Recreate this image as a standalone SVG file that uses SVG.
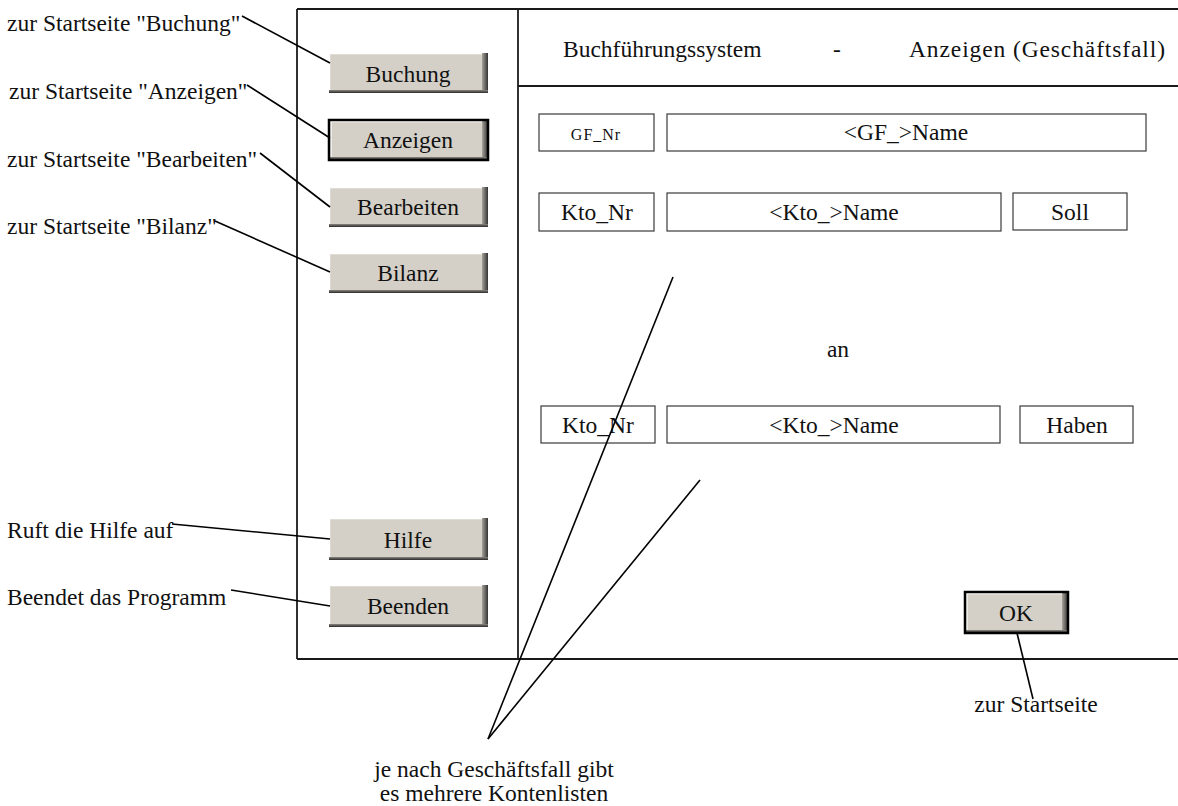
<svg xmlns="http://www.w3.org/2000/svg" width="1178" height="806" viewBox="0 0 1178 806" font-family="'Liberation Serif','Times New Roman',serif">
<defs>
<linearGradient id="shR" x1="0" y1="0" x2="1" y2="0">
<stop offset="0" stop-color="#a8a49c"/>
<stop offset="1" stop-color="#333333"/>
</linearGradient>
<linearGradient id="shB" x1="0" y1="0" x2="0" y2="1">
<stop offset="0" stop-color="#8a8680"/>
<stop offset="1" stop-color="#2a2a2a"/>
</linearGradient>
</defs>
<style>
text{font-family:"Liberation Serif","Times New Roman",serif;fill:#111;}
.t{font-size:23.5px;}
.c{text-anchor:middle;}
.small{font-size:16px;letter-spacing:1px;}
.frame{stroke:#1a1a1a;stroke-width:1.8;fill:none;}
.field{fill:#fff;stroke:#3a3a3a;stroke-width:1.2;}
.face{fill:#d4d0c8;}
.hl{stroke:#fff;stroke-width:1.2;}
.sel{fill:none;stroke:#000;stroke-width:2.5;}
.conn line{stroke:#000;stroke-width:1.6;}
</style>
<rect width="1178" height="806" fill="#fff"/>

<g id="frame">
<line class="frame" x1="297" y1="9" x2="1178" y2="9"/>
<line class="frame" x1="297" y1="9" x2="297" y2="659"/>
<line class="frame" x1="297" y1="659" x2="1178" y2="659"/>
<line class="frame" x1="518" y1="9" x2="518" y2="659"/>
<line class="frame" x1="518" y1="86" x2="1178" y2="86"/>
</g>

<g id="header">
<text class="t" x="563" y="57">Buchführungssystem</text>
<text class="t c" x="837" y="57">-</text>
<text class="t c" x="1037" y="57" textLength="256" lengthAdjust="spacing">Anzeigen (Geschäftsfall)</text>
</g>

<g id="btn-buchung">
<rect class="face" x="329" y="53" width="159" height="40"/>
<rect x="482" y="53" width="6" height="40" fill="url(#shR)"/>
<rect x="329" y="90" width="159" height="3" fill="url(#shB)"/>
<line class="hl" x1="329" y1="53.6" x2="482" y2="53.6"/>
<line class="hl" x1="329.6" y1="53" x2="329.6" y2="90"/>
<text class="t c" x="408" y="82">Buchung</text>
</g>
<g id="btn-anzeigen">
<rect class="face" x="329" y="120" width="159" height="40"/>
<rect x="482" y="120" width="6" height="40" fill="url(#shR)"/>
<rect x="329" y="157" width="159" height="3" fill="url(#shB)"/>
<line class="hl" x1="330" y1="121.6" x2="482" y2="121.6"/>
<line class="hl" x1="331" y1="121" x2="331" y2="157"/>
<rect class="sel" x="329" y="120" width="159" height="40"/>
<text class="t c" x="408" y="148">Anzeigen</text>
</g>
<g id="btn-bearbeiten">
<rect class="face" x="329" y="187" width="159" height="40"/>
<rect x="482" y="187" width="6" height="40" fill="url(#shR)"/>
<rect x="329" y="224" width="159" height="3" fill="url(#shB)"/>
<line class="hl" x1="329" y1="187.6" x2="482" y2="187.6"/>
<line class="hl" x1="329.6" y1="187" x2="329.6" y2="224"/>
<text class="t c" x="408" y="215">Bearbeiten</text>
</g>
<g id="btn-bilanz">
<rect class="face" x="329" y="253" width="159" height="40"/>
<rect x="482" y="253" width="6" height="40" fill="url(#shR)"/>
<rect x="329" y="290" width="159" height="3" fill="url(#shB)"/>
<line class="hl" x1="329" y1="253.6" x2="482" y2="253.6"/>
<line class="hl" x1="329.6" y1="253" x2="329.6" y2="290"/>
<text class="t c" x="408" y="281">Bilanz</text>
</g>
<g id="btn-hilfe">
<rect class="face" x="329" y="518" width="159" height="42"/>
<rect x="482" y="518" width="6" height="42" fill="url(#shR)"/>
<rect x="329" y="557" width="159" height="3" fill="url(#shB)"/>
<line class="hl" x1="329" y1="518.6" x2="482" y2="518.6"/>
<line class="hl" x1="329.6" y1="518" x2="329.6" y2="557"/>
<text class="t c" x="408" y="548">Hilfe</text>
</g>
<g id="btn-beenden">
<rect class="face" x="329" y="585" width="159" height="42"/>
<rect x="482" y="585" width="6" height="42" fill="url(#shR)"/>
<rect x="329" y="624" width="159" height="3" fill="url(#shB)"/>
<line class="hl" x1="329" y1="585.6" x2="482" y2="585.6"/>
<line class="hl" x1="329.6" y1="585" x2="329.6" y2="624"/>
<text class="t c" x="408" y="614">Beenden</text>
</g>
<g id="btn-ok">
<rect class="face" x="965" y="592" width="103" height="41"/>
<rect x="1062" y="592" width="6" height="41" fill="url(#shR)"/>
<rect x="965" y="630" width="103" height="3" fill="url(#shB)"/>
<line class="hl" x1="966" y1="593.6" x2="1062" y2="593.6"/>
<line class="hl" x1="967" y1="593" x2="967" y2="630"/>
<rect class="sel" x="965" y="592" width="103" height="41"/>
<text class="t c" x="1016" y="621">OK</text>
</g>

<g id="gf-nr"><rect class="field" x="539" y="114" width="115" height="37"/><text class="small c" x="596" y="140">GF_Nr</text></g>
<g id="gf-name"><rect class="field" x="667" y="114" width="479" height="37"/><text class="t c" x="906" y="140">&lt;GF_&gt;Name</text></g>
<g id="kto1-nr"><rect class="field" x="539" y="193" width="115" height="38"/><text class="t c" x="597" y="220">Kto_Nr</text></g>
<g id="kto1-name"><rect class="field" x="667" y="193" width="334" height="38"/><text class="t c" x="834" y="220">&lt;Kto_&gt;Name</text></g>
<g id="soll"><rect class="field" x="1013" y="193" width="114" height="37"/><text class="t c" x="1070" y="220">Soll</text></g>
<g id="an"><text class="t c" x="838" y="357">an</text></g>
<g id="kto2-nr"><rect class="field" x="541" y="406" width="114" height="37"/><text class="t c" x="598" y="433">Kto_Nr</text></g>
<g id="kto2-name"><rect class="field" x="667" y="406" width="333" height="37"/><text class="t c" x="834" y="433">&lt;Kto_&gt;Name</text></g>
<g id="haben"><rect class="field" x="1020" y="406" width="113" height="37"/><text class="t c" x="1077" y="433">Haben</text></g>

<g id="labels">
<text class="t" x="7" y="31">zur Startseite "Buchung"</text>
<text class="t" x="9" y="99">zur Startseite "Anzeigen"</text>
<text class="t" x="7" y="167">zur Startseite "Bearbeiten"</text>
<text class="t" x="7" y="234">zur Startseite "Bilanz"</text>
<text class="t" x="7" y="538">Ruft die Hilfe auf</text>
<text class="t" x="7" y="605">Beendet das Programm</text>
<text class="t c" x="1036" y="712">zur Startseite</text>
<text class="t c" x="494" y="777">je nach Geschäftsfall gibt</text>
<text class="t c" x="494" y="801">es mehrere Kontenlisten</text>
</g>

<g id="connectors" class="conn">
<line x1="242" y1="16" x2="330" y2="63"/>
<line x1="247" y1="85" x2="330" y2="138"/>
<line x1="260" y1="153" x2="330" y2="207"/>
<line x1="215" y1="221" x2="330" y2="272"/>
<line x1="172" y1="524" x2="330" y2="539"/>
<line x1="231" y1="590" x2="330" y2="606"/>
<line x1="673" y1="277" x2="488" y2="739"/>
<line x1="700" y1="480" x2="488" y2="739"/>
<line x1="1017" y1="633" x2="1033" y2="699"/>
</g>
</svg>
